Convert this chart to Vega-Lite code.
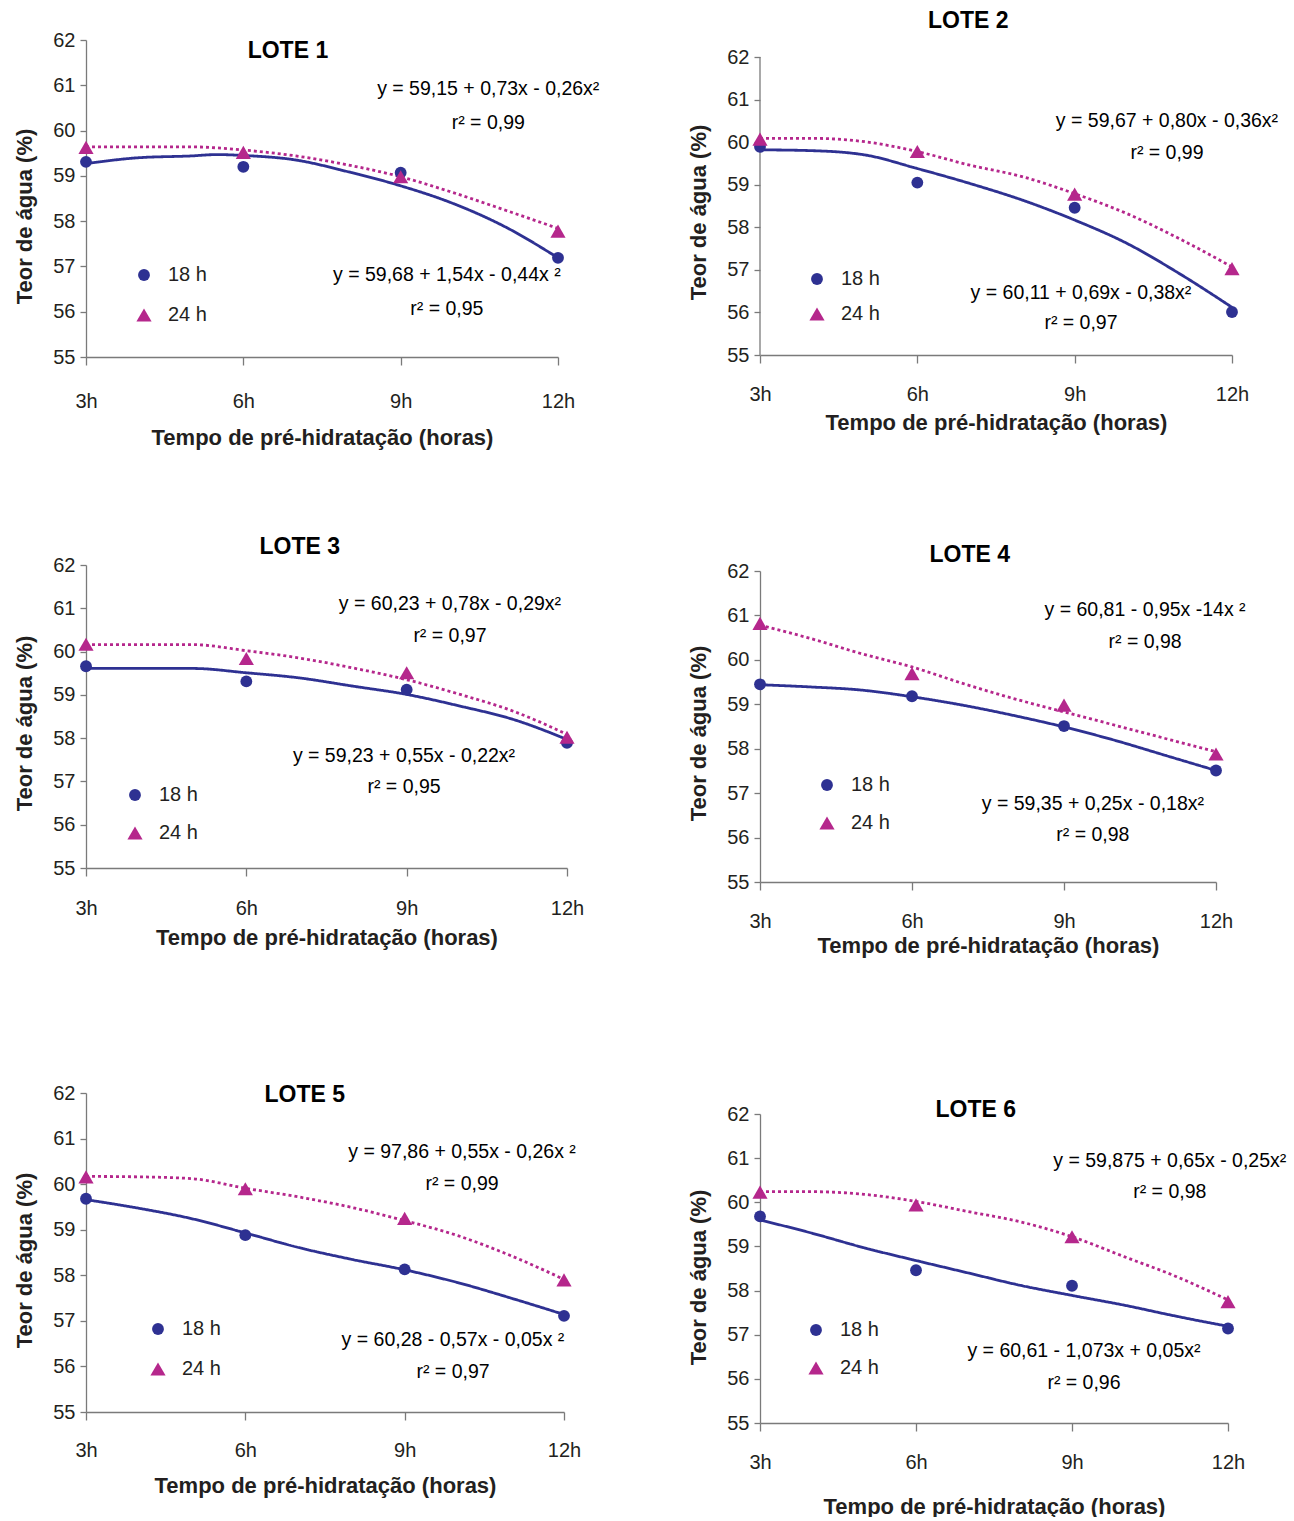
{
  "$schema": "https://vega.github.io/schema/vega-lite/v6.json",
  "padding": {"left": 13, "top": 10, "right": 0, "bottom": 0},
  "data": {"values": [
    {"lote":1,"serie":"18 h","tipo":"obs","hora":3,"teor":59.31},{"lote":1,"serie":"18 h","tipo":"obs","hora":6,"teor":59.20},{"lote":1,"serie":"18 h","tipo":"obs","hora":9,"teor":59.07},{"lote":1,"serie":"18 h","tipo":"obs","hora":12,"teor":57.19},
    {"lote":1,"serie":"24 h","tipo":"obs","hora":3,"teor":59.63},{"lote":1,"serie":"24 h","tipo":"obs","hora":6,"teor":59.52},{"lote":1,"serie":"24 h","tipo":"obs","hora":9,"teor":58.98},{"lote":1,"serie":"24 h","tipo":"obs","hora":12,"teor":57.78},
    {"lote":2,"serie":"18 h","tipo":"obs","hora":3,"teor":59.89},{"lote":2,"serie":"18 h","tipo":"obs","hora":6,"teor":59.05},{"lote":2,"serie":"18 h","tipo":"obs","hora":9,"teor":58.46},{"lote":2,"serie":"18 h","tipo":"obs","hora":12,"teor":56.01},
    {"lote":2,"serie":"24 h","tipo":"obs","hora":3,"teor":60.07},{"lote":2,"serie":"24 h","tipo":"obs","hora":6,"teor":59.78},{"lote":2,"serie":"24 h","tipo":"obs","hora":9,"teor":58.78},{"lote":2,"serie":"24 h","tipo":"obs","hora":12,"teor":57.03},
    {"lote":3,"serie":"18 h","tipo":"obs","hora":3,"teor":59.66},{"lote":3,"serie":"18 h","tipo":"obs","hora":6,"teor":59.31},{"lote":3,"serie":"18 h","tipo":"obs","hora":9,"teor":59.12},{"lote":3,"serie":"18 h","tipo":"obs","hora":12,"teor":57.89},
    {"lote":3,"serie":"24 h","tipo":"obs","hora":3,"teor":60.17},{"lote":3,"serie":"24 h","tipo":"obs","hora":6,"teor":59.84},{"lote":3,"serie":"24 h","tipo":"obs","hora":9,"teor":59.51},{"lote":3,"serie":"24 h","tipo":"obs","hora":12,"teor":58.02},
    {"lote":4,"serie":"18 h","tipo":"obs","hora":3,"teor":59.45},{"lote":4,"serie":"18 h","tipo":"obs","hora":6,"teor":59.18},{"lote":4,"serie":"18 h","tipo":"obs","hora":9,"teor":58.51},{"lote":4,"serie":"18 h","tipo":"obs","hora":12,"teor":57.51},
    {"lote":4,"serie":"24 h","tipo":"obs","hora":3,"teor":60.82},{"lote":4,"serie":"24 h","tipo":"obs","hora":6,"teor":59.69},{"lote":4,"serie":"24 h","tipo":"obs","hora":9,"teor":58.98},{"lote":4,"serie":"24 h","tipo":"obs","hora":12,"teor":57.88},
    {"lote":5,"serie":"18 h","tipo":"obs","hora":3,"teor":59.68},{"lote":5,"serie":"18 h","tipo":"obs","hora":6,"teor":58.88},{"lote":5,"serie":"18 h","tipo":"obs","hora":9,"teor":58.13},{"lote":5,"serie":"18 h","tipo":"obs","hora":12,"teor":57.11},
    {"lote":5,"serie":"24 h","tipo":"obs","hora":3,"teor":60.16},{"lote":5,"serie":"24 h","tipo":"obs","hora":6,"teor":59.90},{"lote":5,"serie":"24 h","tipo":"obs","hora":9,"teor":59.25},{"lote":5,"serie":"24 h","tipo":"obs","hora":12,"teor":57.90},
    {"lote":6,"serie":"18 h","tipo":"obs","hora":3,"teor":59.68},{"lote":6,"serie":"18 h","tipo":"obs","hora":6,"teor":58.46},{"lote":6,"serie":"18 h","tipo":"obs","hora":9,"teor":58.11},{"lote":6,"serie":"18 h","tipo":"obs","hora":12,"teor":57.14},
    {"lote":6,"serie":"24 h","tipo":"obs","hora":3,"teor":60.23},{"lote":6,"serie":"24 h","tipo":"obs","hora":6,"teor":59.94},{"lote":6,"serie":"24 h","tipo":"obs","hora":9,"teor":59.22},{"lote":6,"serie":"24 h","tipo":"obs","hora":12,"teor":57.75},

    {"lote":1,"serie":"18 h","tipo":"ajuste","hora":3,"teor":59.27},{"lote":1,"serie":"18 h","tipo":"ajuste","hora":4,"teor":59.40},{"lote":1,"serie":"18 h","tipo":"ajuste","hora":5,"teor":59.44},{"lote":1,"serie":"18 h","tipo":"ajuste","hora":5.5,"teor":59.47},{"lote":1,"serie":"18 h","tipo":"ajuste","hora":6,"teor":59.45},{"lote":1,"serie":"18 h","tipo":"ajuste","hora":7,"teor":59.35},{"lote":1,"serie":"18 h","tipo":"ajuste","hora":8,"teor":59.09},{"lote":1,"serie":"18 h","tipo":"ajuste","hora":9,"teor":58.78},{"lote":1,"serie":"18 h","tipo":"ajuste","hora":10,"teor":58.39},{"lote":1,"serie":"18 h","tipo":"ajuste","hora":11,"teor":57.87},{"lote":1,"serie":"18 h","tipo":"ajuste","hora":12,"teor":57.19},
    {"lote":1,"serie":"24 h","tipo":"ajuste","hora":3,"teor":59.64},{"lote":1,"serie":"24 h","tipo":"ajuste","hora":4,"teor":59.64},{"lote":1,"serie":"24 h","tipo":"ajuste","hora":5,"teor":59.64},{"lote":1,"serie":"24 h","tipo":"ajuste","hora":6,"teor":59.57},{"lote":1,"serie":"24 h","tipo":"ajuste","hora":7,"teor":59.44},{"lote":1,"serie":"24 h","tipo":"ajuste","hora":8,"teor":59.24},{"lote":1,"serie":"24 h","tipo":"ajuste","hora":9,"teor":58.98},{"lote":1,"serie":"24 h","tipo":"ajuste","hora":10,"teor":58.63},{"lote":1,"serie":"24 h","tipo":"ajuste","hora":11,"teor":58.24},{"lote":1,"serie":"24 h","tipo":"ajuste","hora":12,"teor":57.84},
    {"lote":2,"serie":"18 h","tipo":"ajuste","hora":3,"teor":59.82},{"lote":2,"serie":"18 h","tipo":"ajuste","hora":4,"teor":59.80},{"lote":2,"serie":"18 h","tipo":"ajuste","hora":5,"teor":59.70},{"lote":2,"serie":"18 h","tipo":"ajuste","hora":6,"teor":59.38},{"lote":2,"serie":"18 h","tipo":"ajuste","hora":7,"teor":59.03},{"lote":2,"serie":"18 h","tipo":"ajuste","hora":8,"teor":58.64},{"lote":2,"serie":"18 h","tipo":"ajuste","hora":9,"teor":58.17},{"lote":2,"serie":"18 h","tipo":"ajuste","hora":10,"teor":57.62},{"lote":2,"serie":"18 h","tipo":"ajuste","hora":11,"teor":56.91},{"lote":2,"serie":"18 h","tipo":"ajuste","hora":12,"teor":56.12},
    {"lote":2,"serie":"24 h","tipo":"ajuste","hora":3,"teor":60.09},{"lote":2,"serie":"24 h","tipo":"ajuste","hora":4,"teor":60.09},{"lote":2,"serie":"24 h","tipo":"ajuste","hora":5,"teor":60.01},{"lote":2,"serie":"24 h","tipo":"ajuste","hora":6,"teor":59.78},{"lote":2,"serie":"24 h","tipo":"ajuste","hora":7,"teor":59.46},{"lote":2,"serie":"24 h","tipo":"ajuste","hora":8,"teor":59.19},{"lote":2,"serie":"24 h","tipo":"ajuste","hora":9,"teor":58.79},{"lote":2,"serie":"24 h","tipo":"ajuste","hora":10,"teor":58.32},{"lote":2,"serie":"24 h","tipo":"ajuste","hora":11,"teor":57.73},{"lote":2,"serie":"24 h","tipo":"ajuste","hora":12,"teor":57.07},
    {"lote":3,"serie":"18 h","tipo":"ajuste","hora":3,"teor":59.61},{"lote":3,"serie":"18 h","tipo":"ajuste","hora":4,"teor":59.61},{"lote":3,"serie":"18 h","tipo":"ajuste","hora":5,"teor":59.61},{"lote":3,"serie":"18 h","tipo":"ajuste","hora":6,"teor":59.51},{"lote":3,"serie":"18 h","tipo":"ajuste","hora":7,"teor":59.39},{"lote":3,"serie":"18 h","tipo":"ajuste","hora":8,"teor":59.20},{"lote":3,"serie":"18 h","tipo":"ajuste","hora":9,"teor":59.01},{"lote":3,"serie":"18 h","tipo":"ajuste","hora":10,"teor":58.74},{"lote":3,"serie":"18 h","tipo":"ajuste","hora":11,"teor":58.43},{"lote":3,"serie":"18 h","tipo":"ajuste","hora":12,"teor":57.97},
    {"lote":3,"serie":"24 h","tipo":"ajuste","hora":3,"teor":60.16},{"lote":3,"serie":"24 h","tipo":"ajuste","hora":4,"teor":60.16},{"lote":3,"serie":"24 h","tipo":"ajuste","hora":5,"teor":60.16},{"lote":3,"serie":"24 h","tipo":"ajuste","hora":6,"teor":60.02},{"lote":3,"serie":"24 h","tipo":"ajuste","hora":7,"teor":59.85},{"lote":3,"serie":"24 h","tipo":"ajuste","hora":8,"teor":59.62},{"lote":3,"serie":"24 h","tipo":"ajuste","hora":9,"teor":59.35},{"lote":3,"serie":"24 h","tipo":"ajuste","hora":10,"teor":59.01},{"lote":3,"serie":"24 h","tipo":"ajuste","hora":11,"teor":58.62},{"lote":3,"serie":"24 h","tipo":"ajuste","hora":12,"teor":58.09},
    {"lote":4,"serie":"18 h","tipo":"ajuste","hora":3,"teor":59.44},{"lote":4,"serie":"18 h","tipo":"ajuste","hora":4,"teor":59.39},{"lote":4,"serie":"18 h","tipo":"ajuste","hora":5,"teor":59.32},{"lote":4,"serie":"18 h","tipo":"ajuste","hora":6,"teor":59.17},{"lote":4,"serie":"18 h","tipo":"ajuste","hora":7,"teor":58.98},{"lote":4,"serie":"18 h","tipo":"ajuste","hora":8,"teor":58.75},{"lote":4,"serie":"18 h","tipo":"ajuste","hora":9,"teor":58.49},{"lote":4,"serie":"18 h","tipo":"ajuste","hora":10,"teor":58.19},{"lote":4,"serie":"18 h","tipo":"ajuste","hora":11,"teor":57.85},{"lote":4,"serie":"18 h","tipo":"ajuste","hora":12,"teor":57.51},
    {"lote":4,"serie":"24 h","tipo":"ajuste","hora":3,"teor":60.78},{"lote":4,"serie":"24 h","tipo":"ajuste","hora":4,"teor":60.48},{"lote":4,"serie":"24 h","tipo":"ajuste","hora":5,"teor":60.14},{"lote":4,"serie":"24 h","tipo":"ajuste","hora":6,"teor":59.84},{"lote":4,"serie":"24 h","tipo":"ajuste","hora":7,"teor":59.47},{"lote":4,"serie":"24 h","tipo":"ajuste","hora":8,"teor":59.13},{"lote":4,"serie":"24 h","tipo":"ajuste","hora":9,"teor":58.83},{"lote":4,"serie":"24 h","tipo":"ajuste","hora":10,"teor":58.53},{"lote":4,"serie":"24 h","tipo":"ajuste","hora":11,"teor":58.23},{"lote":4,"serie":"24 h","tipo":"ajuste","hora":12,"teor":57.93},
    {"lote":5,"serie":"18 h","tipo":"ajuste","hora":3,"teor":59.66},{"lote":5,"serie":"18 h","tipo":"ajuste","hora":4,"teor":59.47},{"lote":5,"serie":"18 h","tipo":"ajuste","hora":5,"teor":59.24},{"lote":5,"serie":"18 h","tipo":"ajuste","hora":6,"teor":58.93},{"lote":5,"serie":"18 h","tipo":"ajuste","hora":7,"teor":58.61},{"lote":5,"serie":"18 h","tipo":"ajuste","hora":8,"teor":58.35},{"lote":5,"serie":"18 h","tipo":"ajuste","hora":9,"teor":58.12},{"lote":5,"serie":"18 h","tipo":"ajuste","hora":10,"teor":57.84},{"lote":5,"serie":"18 h","tipo":"ajuste","hora":11,"teor":57.50},{"lote":5,"serie":"18 h","tipo":"ajuste","hora":12,"teor":57.14},
    {"lote":5,"serie":"24 h","tipo":"ajuste","hora":3,"teor":60.17},{"lote":5,"serie":"24 h","tipo":"ajuste","hora":4,"teor":60.16},{"lote":5,"serie":"24 h","tipo":"ajuste","hora":5,"teor":60.12},{"lote":5,"serie":"24 h","tipo":"ajuste","hora":6,"teor":59.91},{"lote":5,"serie":"24 h","tipo":"ajuste","hora":7,"teor":59.72},{"lote":5,"serie":"24 h","tipo":"ajuste","hora":8,"teor":59.49},{"lote":5,"serie":"24 h","tipo":"ajuste","hora":9,"teor":59.20},{"lote":5,"serie":"24 h","tipo":"ajuste","hora":10,"teor":58.87},{"lote":5,"serie":"24 h","tipo":"ajuste","hora":11,"teor":58.43},{"lote":5,"serie":"24 h","tipo":"ajuste","hora":12,"teor":57.91},
    {"lote":6,"serie":"18 h","tipo":"ajuste","hora":3,"teor":59.60},{"lote":6,"serie":"18 h","tipo":"ajuste","hora":4,"teor":59.30},{"lote":6,"serie":"18 h","tipo":"ajuste","hora":5,"teor":58.97},{"lote":6,"serie":"18 h","tipo":"ajuste","hora":6,"teor":58.68},{"lote":6,"serie":"18 h","tipo":"ajuste","hora":7,"teor":58.40},{"lote":6,"serie":"18 h","tipo":"ajuste","hora":8,"teor":58.12},{"lote":6,"serie":"18 h","tipo":"ajuste","hora":9,"teor":57.89},{"lote":6,"serie":"18 h","tipo":"ajuste","hora":10,"teor":57.67},{"lote":6,"serie":"18 h","tipo":"ajuste","hora":11,"teor":57.42},{"lote":6,"serie":"18 h","tipo":"ajuste","hora":12,"teor":57.19},
    {"lote":6,"serie":"24 h","tipo":"ajuste","hora":3,"teor":60.24},{"lote":6,"serie":"24 h","tipo":"ajuste","hora":4,"teor":60.24},{"lote":6,"serie":"24 h","tipo":"ajuste","hora":5,"teor":60.18},{"lote":6,"serie":"24 h","tipo":"ajuste","hora":6,"teor":60.02},{"lote":6,"serie":"24 h","tipo":"ajuste","hora":7,"teor":59.79},{"lote":6,"serie":"24 h","tipo":"ajuste","hora":8,"teor":59.56},{"lote":6,"serie":"24 h","tipo":"ajuste","hora":9,"teor":59.22},{"lote":6,"serie":"24 h","tipo":"ajuste","hora":10,"teor":58.77},{"lote":6,"serie":"24 h","tipo":"ajuste","hora":11,"teor":58.32},{"lote":6,"serie":"24 h","tipo":"ajuste","hora":12,"teor":57.79}
  ]},
  "resolve": {"scale": {"color": "independent", "shape": "independent", "size": "independent"}, "legend": {"color": "independent", "shape": "independent", "size": "independent"}},
  "columns": 2,
  "spacing": 84,
  "concat": [
    {
      "resolve": {"scale": {"color": "independent", "shape": "independent", "size": "independent"}, "legend": {"color": "independent", "shape": "independent", "size": "independent"}},
      "spacing": 135,
      "vconcat": [
        {
          "resolve": {"scale": {"color": "independent", "shape": "independent", "size": "independent"}, "legend": {"color": "independent", "shape": "independent", "size": "independent"}},
          "spacing": 88,
          "vconcat": [
            {
              "width": 472, "height": 317,
              "layer": [
                {"transform": [{"filter": "datum.lote == 1 && datum.tipo == 'ajuste'"}], "mark": {"type": "line", "interpolate": "monotone", "strokeWidth": 2.8}, "encoding": {
                  "x": {"field": "hora", "type": "quantitative", "scale": {"domain": [3, 12], "nice": false, "zero": false}, "axis": {"values": [3, 6, 9, 12], "labelExpr": "datum.value + 'h'", "labelPadding": 26, "titlePadding": 16, "title": "Tempo de pré-hidratação (horas)"}},
                  "y": {"field": "teor", "type": "quantitative", "scale": {"domain": [55, 62], "nice": false, "zero": false}, "axis": {"values": [55, 56, 57, 58, 59, 60, 61, 62], "title": "Teor de água (%)", "titleY": 176}},
                  "stroke": {"field": "serie", "type": "nominal", "scale": {"domain": ["18 h", "24 h"], "range": ["#2E3192", "#B5278C"]}, "legend": null}, "strokeDash": {"field": "serie", "type": "nominal", "scale": {"domain": ["18 h", "24 h"], "range": [[1, 0], [3, 3]]}, "legend": null}}},
                {"transform": [{"filter": "datum.lote == 1 && datum.tipo == 'obs'"}], "mark": {"type": "point", "filled": true, "opacity": 1}, "encoding": {
                  "x": {"field": "hora", "type": "quantitative"}, "y": {"field": "teor", "type": "quantitative"},
                  "size": {"field": "serie", "type": "nominal", "scale": {"domain": ["18 h", "24 h"], "range": [140, 230]}, "legend": {"title": null, "orient": "none", "legendX": 48, "legendY": 225, "labelFontSize": 20, "labelColor": "#231f20", "labelOffset": 14, "rowPadding": 20, "symbolStrokeWidth": 0, "padding": 0}},
                  "color": {"field": "serie", "type": "nominal", "scale": {"domain": ["18 h", "24 h"], "range": ["#2E3192", "#B5278C"]}, "legend": {"title": null, "orient": "none", "legendX": 48, "legendY": 225, "labelFontSize": 20, "labelColor": "#231f20", "labelOffset": 14, "rowPadding": 20, "symbolStrokeWidth": 0, "padding": 0}},
                  "shape": {"field": "serie", "type": "nominal", "scale": {"domain": ["18 h", "24 h"], "range": ["circle", "triangle-up"]}, "legend": {"title": null, "orient": "none", "legendX": 48, "legendY": 225, "labelFontSize": 20, "labelColor": "#231f20", "labelOffset": 14, "rowPadding": 20, "symbolStrokeWidth": 0, "padding": 0}}}},
                {"data": {"values": [{"k": 1}]}, "mark": {"type": "text", "fontSize": 23, "fontWeight": "bold", "baseline": "middle", "align": "center"}, "encoding": {"x": {"datum": 6.85}, "y": {"datum": 61.75}, "text": {"value": "LOTE 1"}}},
                {"data": {"values": [{"k": 1}]}, "mark": {"type": "text", "fontSize": 19.5, "baseline": "top", "align": "center", "lineHeight": 34}, "encoding": {"x": {"datum": 10.67}, "y": {"datum": 61.11}, "text": {"value": ["y =  59,15 + 0,73x - 0,26x²", "r² = 0,99"]}}},
                {"data": {"values": [{"k": 1}]}, "mark": {"type": "text", "fontSize": 19.5, "baseline": "top", "align": "center", "lineHeight": 34}, "encoding": {"x": {"datum": 9.88}, "y": {"datum": 57.02}, "text": {"value": ["y =  59,68 + 1,54x - 0,44x ²", "r² = 0,95"]}}}
              ]
            },
            {
              "width": 481, "height": 303,
              "layer": [
                {"transform": [{"filter": "datum.lote == 3 && datum.tipo == 'ajuste'"}], "mark": {"type": "line", "interpolate": "monotone", "strokeWidth": 2.8}, "encoding": {
                  "x": {"field": "hora", "type": "quantitative", "scale": {"domain": [3, 12], "nice": false, "zero": false}, "axis": {"values": [3, 6, 9, 12], "labelExpr": "datum.value + 'h'", "labelPadding": 22, "titlePadding": 9, "title": "Tempo de pré-hidratação (horas)"}},
                  "y": {"field": "teor", "type": "quantitative", "scale": {"domain": [55, 62], "nice": false, "zero": false}, "axis": {"values": [55, 56, 57, 58, 59, 60, 61, 62], "title": "Teor de água (%)", "titleY": 158}},
                  "stroke": {"field": "serie", "type": "nominal", "scale": {"domain": ["18 h", "24 h"], "range": ["#2E3192", "#B5278C"]}, "legend": null}, "strokeDash": {"field": "serie", "type": "nominal", "scale": {"domain": ["18 h", "24 h"], "range": [[1, 0], [3, 3]]}, "legend": null}}},
                {"transform": [{"filter": "datum.lote == 3 && datum.tipo == 'obs'"}], "mark": {"type": "point", "filled": true, "opacity": 1}, "encoding": {
                  "x": {"field": "hora", "type": "quantitative"}, "y": {"field": "teor", "type": "quantitative"},
                  "size": {"field": "serie", "type": "nominal", "scale": {"domain": ["18 h", "24 h"], "range": [140, 230]}, "legend": {"title": null, "orient": "none", "legendX": 39, "legendY": 220, "labelFontSize": 20, "labelColor": "#231f20", "labelOffset": 14, "rowPadding": 18, "symbolStrokeWidth": 0, "padding": 0}},
                  "color": {"field": "serie", "type": "nominal", "scale": {"domain": ["18 h", "24 h"], "range": ["#2E3192", "#B5278C"]}, "legend": {"title": null, "orient": "none", "legendX": 39, "legendY": 220, "labelFontSize": 20, "labelColor": "#231f20", "labelOffset": 14, "rowPadding": 18, "symbolStrokeWidth": 0, "padding": 0}},
                  "shape": {"field": "serie", "type": "nominal", "scale": {"domain": ["18 h", "24 h"], "range": ["circle", "triangle-up"]}, "legend": {"title": null, "orient": "none", "legendX": 39, "legendY": 220, "labelFontSize": 20, "labelColor": "#231f20", "labelOffset": 14, "rowPadding": 18, "symbolStrokeWidth": 0, "padding": 0}}}},
                {"data": {"values": [{"k": 1}]}, "mark": {"type": "text", "fontSize": 23, "fontWeight": "bold", "baseline": "middle", "align": "center"}, "encoding": {"x": {"datum": 7.00}, "y": {"datum": 62.41}, "text": {"value": "LOTE 3"}}},
                {"data": {"values": [{"k": 1}]}, "mark": {"type": "text", "fontSize": 19.5, "baseline": "top", "align": "center", "lineHeight": 32}, "encoding": {"x": {"datum": 9.81}, "y": {"datum": 61.30}, "text": {"value": ["y = 60,23 + 0,78x - 0,29x²", "r² = 0,97"]}}},
                {"data": {"values": [{"k": 1}]}, "mark": {"type": "text", "fontSize": 19.5, "baseline": "top", "align": "center", "lineHeight": 31}, "encoding": {"x": {"datum": 8.95}, "y": {"datum": 57.79}, "text": {"value": ["y = 59,23 + 0,55x - 0,22x²", "r² = 0,95"]}}}
              ]
            }
          ]
        },
        {
          "width": 478, "height": 319,
          "layer": [
            {"transform": [{"filter": "datum.lote == 5 && datum.tipo == 'ajuste'"}], "mark": {"type": "line", "interpolate": "monotone", "strokeWidth": 2.8}, "encoding": {
              "x": {"field": "hora", "type": "quantitative", "scale": {"domain": [3, 12], "nice": false, "zero": false}, "axis": {"values": [3, 6, 9, 12], "labelExpr": "datum.value + 'h'", "labelPadding": 20, "titlePadding": 15, "title": "Tempo de pré-hidratação (horas)"}},
              "y": {"field": "teor", "type": "quantitative", "scale": {"domain": [55, 62], "nice": false, "zero": false}, "axis": {"values": [55, 56, 57, 58, 59, 60, 61, 62], "title": "Teor de água (%)", "titleY": 167}},
              "stroke": {"field": "serie", "type": "nominal", "scale": {"domain": ["18 h", "24 h"], "range": ["#2E3192", "#B5278C"]}, "legend": null}, "strokeDash": {"field": "serie", "type": "nominal", "scale": {"domain": ["18 h", "24 h"], "range": [[1, 0], [3, 3]]}, "legend": null}}},
            {"transform": [{"filter": "datum.lote == 5 && datum.tipo == 'obs'"}], "mark": {"type": "point", "filled": true, "opacity": 1}, "encoding": {
              "x": {"field": "hora", "type": "quantitative"}, "y": {"field": "teor", "type": "quantitative"},
              "size": {"field": "serie", "type": "nominal", "scale": {"domain": ["18 h", "24 h"], "range": [140, 230]}, "legend": {"title": null, "orient": "none", "legendX": 62, "legendY": 226, "labelFontSize": 20, "labelColor": "#231f20", "labelOffset": 14, "rowPadding": 20, "symbolStrokeWidth": 0, "padding": 0}},
              "color": {"field": "serie", "type": "nominal", "scale": {"domain": ["18 h", "24 h"], "range": ["#2E3192", "#B5278C"]}, "legend": {"title": null, "orient": "none", "legendX": 62, "legendY": 226, "labelFontSize": 20, "labelColor": "#231f20", "labelOffset": 14, "rowPadding": 20, "symbolStrokeWidth": 0, "padding": 0}},
              "shape": {"field": "serie", "type": "nominal", "scale": {"domain": ["18 h", "24 h"], "range": ["circle", "triangle-up"]}, "legend": {"title": null, "orient": "none", "legendX": 62, "legendY": 226, "labelFontSize": 20, "labelColor": "#231f20", "labelOffset": 14, "rowPadding": 20, "symbolStrokeWidth": 0, "padding": 0}}}},
            {"data": {"values": [{"k": 1}]}, "mark": {"type": "text", "fontSize": 23, "fontWeight": "bold", "baseline": "middle", "align": "center"}, "encoding": {"x": {"datum": 7.12}, "y": {"datum": 61.95}, "text": {"value": "LOTE 5"}}},
            {"data": {"values": [{"k": 1}]}, "mark": {"type": "text", "fontSize": 19.5, "baseline": "top", "align": "center", "lineHeight": 32}, "encoding": {"x": {"datum": 10.08}, "y": {"datum": 60.90}, "text": {"value": ["y = 97,86 + 0,55x - 0,26x ²", "r² = 0,99"]}}},
            {"data": {"values": [{"k": 1}]}, "mark": {"type": "text", "fontSize": 19.5, "baseline": "top", "align": "center", "lineHeight": 32}, "encoding": {"x": {"datum": 9.91}, "y": {"datum": 56.77}, "text": {"value": ["y = 60,28 - 0,57x - 0,05x ²", "r² = 0,97"]}}}
          ]
        }
      ]
    },
    {
      "resolve": {"scale": {"color": "independent", "shape": "independent", "size": "independent"}, "legend": {"color": "independent", "shape": "independent", "size": "independent"}},
      "spacing": 143,
      "vconcat": [
        {
          "resolve": {"scale": {"color": "independent", "shape": "independent", "size": "independent"}, "legend": {"color": "independent", "shape": "independent", "size": "independent"}},
          "spacing": 111,
          "vconcat": [
            {
              "width": 472, "height": 315,
              "layer": [
                {"data": {"values": [{"k": 1}]}, "mark": {"type": "rule", "color": "#7a7a7a", "strokeWidth": 1.3}, "encoding": {"x": {"datum": 3}, "y": {"datum": 55}, "y2": {"datum": 62}}},
                {"transform": [{"filter": "datum.lote == 2 && datum.tipo == 'ajuste'"}], "mark": {"type": "line", "interpolate": "monotone", "strokeWidth": 2.8}, "encoding": {
                  "x": {"field": "hora", "type": "quantitative", "scale": {"domain": [3, 12], "nice": false, "zero": false}, "axis": {"values": [3, 6, 9, 12], "labelExpr": "datum.value + 'h'", "labelPadding": 21, "titlePadding": 8, "title": "Tempo de pré-hidratação (horas)"}},
                  "y": {"field": "teor", "type": "quantitative", "scale": {"domain": [55, 62.4], "nice": false, "zero": false}, "axis": {"values": [55, 56, 57, 58, 59, 60, 61, 62], "domain": false, "title": "Teor de água (%)", "titleY": 172}},
                  "stroke": {"field": "serie", "type": "nominal", "scale": {"domain": ["18 h", "24 h"], "range": ["#2E3192", "#B5278C"]}, "legend": null}, "strokeDash": {"field": "serie", "type": "nominal", "scale": {"domain": ["18 h", "24 h"], "range": [[1, 0], [3, 3]]}, "legend": null}}},
                {"transform": [{"filter": "datum.lote == 2 && datum.tipo == 'obs'"}], "mark": {"type": "point", "filled": true, "opacity": 1}, "encoding": {
                  "x": {"field": "hora", "type": "quantitative"}, "y": {"field": "teor", "type": "quantitative"},
                  "size": {"field": "serie", "type": "nominal", "scale": {"domain": ["18 h", "24 h"], "range": [140, 230]}, "legend": {"title": null, "orient": "none", "legendX": 47, "legendY": 229, "labelFontSize": 20, "labelColor": "#231f20", "labelOffset": 14, "rowPadding": 15, "symbolStrokeWidth": 0, "padding": 0}},
                  "color": {"field": "serie", "type": "nominal", "scale": {"domain": ["18 h", "24 h"], "range": ["#2E3192", "#B5278C"]}, "legend": {"title": null, "orient": "none", "legendX": 47, "legendY": 229, "labelFontSize": 20, "labelColor": "#231f20", "labelOffset": 14, "rowPadding": 15, "symbolStrokeWidth": 0, "padding": 0}},
                  "shape": {"field": "serie", "type": "nominal", "scale": {"domain": ["18 h", "24 h"], "range": ["circle", "triangle-up"]}, "legend": {"title": null, "orient": "none", "legendX": 47, "legendY": 229, "labelFontSize": 20, "labelColor": "#231f20", "labelOffset": 14, "rowPadding": 15, "symbolStrokeWidth": 0, "padding": 0}}}},
                {"data": {"values": [{"k": 1}]}, "mark": {"type": "text", "fontSize": 23, "fontWeight": "bold", "baseline": "middle", "align": "center"}, "encoding": {"x": {"datum": 6.97}, "y": {"datum": 62.84}, "text": {"value": "LOTE 2"}}},
                {"data": {"values": [{"k": 1}]}, "mark": {"type": "text", "fontSize": 19.5, "baseline": "top", "align": "center", "lineHeight": 32}, "encoding": {"x": {"datum": 10.76}, "y": {"datum": 60.72}, "text": {"value": ["y =  59,67 + 0,80x - 0,36x²", "r² = 0,99"]}}},
                {"data": {"values": [{"k": 1}]}, "mark": {"type": "text", "fontSize": 19.5, "baseline": "top", "align": "center", "lineHeight": 30}, "encoding": {"x": {"datum": 9.12}, "y": {"datum": 56.66}, "text": {"value": ["y = 60,11 + 0,69x - 0,38x²", "r² = 0,97"]}}}
              ]
            },
            {
              "width": 456, "height": 311,
              "layer": [
                {"transform": [{"filter": "datum.lote == 4 && datum.tipo == 'ajuste'"}], "mark": {"type": "line", "interpolate": "monotone", "strokeWidth": 2.8}, "encoding": {
                  "x": {"field": "hora", "type": "quantitative", "scale": {"domain": [3, 12], "nice": false, "zero": false}, "axis": {"values": [3, 6, 9, 12], "labelExpr": "datum.value + 'h'", "labelPadding": 21, "titlePadding": 4, "title": "Tempo de pré-hidratação (horas)"}},
                  "y": {"field": "teor", "type": "quantitative", "scale": {"domain": [55, 62], "nice": false, "zero": false}, "axis": {"values": [55, 56, 57, 58, 59, 60, 61, 62], "title": "Teor de água (%)", "titleY": 162}},
                  "stroke": {"field": "serie", "type": "nominal", "scale": {"domain": ["18 h", "24 h"], "range": ["#2E3192", "#B5278C"]}, "legend": null}, "strokeDash": {"field": "serie", "type": "nominal", "scale": {"domain": ["18 h", "24 h"], "range": [[1, 0], [3, 3]]}, "legend": null}}},
                {"transform": [{"filter": "datum.lote == 4 && datum.tipo == 'obs'"}], "mark": {"type": "point", "filled": true, "opacity": 1}, "encoding": {
                  "x": {"field": "hora", "type": "quantitative"}, "y": {"field": "teor", "type": "quantitative"},
                  "size": {"field": "serie", "type": "nominal", "scale": {"domain": ["18 h", "24 h"], "range": [140, 230]}, "legend": {"title": null, "orient": "none", "legendX": 57, "legendY": 204, "labelFontSize": 20, "labelColor": "#231f20", "labelOffset": 14, "rowPadding": 18, "symbolStrokeWidth": 0, "padding": 0}},
                  "color": {"field": "serie", "type": "nominal", "scale": {"domain": ["18 h", "24 h"], "range": ["#2E3192", "#B5278C"]}, "legend": {"title": null, "orient": "none", "legendX": 57, "legendY": 204, "labelFontSize": 20, "labelColor": "#231f20", "labelOffset": 14, "rowPadding": 18, "symbolStrokeWidth": 0, "padding": 0}},
                  "shape": {"field": "serie", "type": "nominal", "scale": {"domain": ["18 h", "24 h"], "range": ["circle", "triangle-up"]}, "legend": {"title": null, "orient": "none", "legendX": 57, "legendY": 204, "labelFontSize": 20, "labelColor": "#231f20", "labelOffset": 14, "rowPadding": 18, "symbolStrokeWidth": 0, "padding": 0}}}},
                {"data": {"values": [{"k": 1}]}, "mark": {"type": "text", "fontSize": 23, "fontWeight": "bold", "baseline": "middle", "align": "center"}, "encoding": {"x": {"datum": 7.14}, "y": {"datum": 62.35}, "text": {"value": "LOTE 4"}}},
                {"data": {"values": [{"k": 1}]}, "mark": {"type": "text", "fontSize": 19.5, "baseline": "top", "align": "center", "lineHeight": 32}, "encoding": {"x": {"datum": 10.60}, "y": {"datum": 61.33}, "text": {"value": ["y = 60,81 - 0,95x -14x ²", "r² = 0,98"]}}},
                {"data": {"values": [{"k": 1}]}, "mark": {"type": "text", "fontSize": 19.5, "baseline": "top", "align": "center", "lineHeight": 31}, "encoding": {"x": {"datum": 9.57}, "y": {"datum": 56.95}, "text": {"value": ["y = 59,35 + 0,25x - 0,18x²", "r² = 0,98"]}}}
              ]
            }
          ]
        },
        {
          "width": 468, "height": 309,
          "layer": [
            {"transform": [{"filter": "datum.lote == 6 && datum.tipo == 'ajuste'"}], "mark": {"type": "line", "interpolate": "monotone", "strokeWidth": 2.8}, "encoding": {
              "x": {"field": "hora", "type": "quantitative", "scale": {"domain": [3, 12], "nice": false, "zero": false}, "axis": {"values": [3, 6, 9, 12], "labelExpr": "datum.value + 'h'", "labelPadding": 21, "titlePadding": 24, "title": "Tempo de pré-hidratação (horas)"}},
              "y": {"field": "teor", "type": "quantitative", "scale": {"domain": [55, 62], "nice": false, "zero": false}, "axis": {"values": [55, 56, 57, 58, 59, 60, 61, 62], "title": "Teor de água (%)", "titleY": 163}},
              "stroke": {"field": "serie", "type": "nominal", "scale": {"domain": ["18 h", "24 h"], "range": ["#2E3192", "#B5278C"]}, "legend": null}, "strokeDash": {"field": "serie", "type": "nominal", "scale": {"domain": ["18 h", "24 h"], "range": [[1, 0], [3, 3]]}, "legend": null}}},
            {"transform": [{"filter": "datum.lote == 6 && datum.tipo == 'obs'"}], "mark": {"type": "point", "filled": true, "opacity": 1}, "encoding": {
              "x": {"field": "hora", "type": "quantitative"}, "y": {"field": "teor", "type": "quantitative"},
              "size": {"field": "serie", "type": "nominal", "scale": {"domain": ["18 h", "24 h"], "range": [140, 230]}, "legend": {"title": null, "orient": "none", "legendX": 46, "legendY": 206, "labelFontSize": 20, "labelColor": "#231f20", "labelOffset": 14, "rowPadding": 18, "symbolStrokeWidth": 0, "padding": 0}},
              "color": {"field": "serie", "type": "nominal", "scale": {"domain": ["18 h", "24 h"], "range": ["#2E3192", "#B5278C"]}, "legend": {"title": null, "orient": "none", "legendX": 46, "legendY": 206, "labelFontSize": 20, "labelColor": "#231f20", "labelOffset": 14, "rowPadding": 18, "symbolStrokeWidth": 0, "padding": 0}},
              "shape": {"field": "serie", "type": "nominal", "scale": {"domain": ["18 h", "24 h"], "range": ["circle", "triangle-up"]}, "legend": {"title": null, "orient": "none", "legendX": 46, "legendY": 206, "labelFontSize": 20, "labelColor": "#231f20", "labelOffset": 14, "rowPadding": 18, "symbolStrokeWidth": 0, "padding": 0}}}},
            {"data": {"values": [{"k": 1}]}, "mark": {"type": "text", "fontSize": 23, "fontWeight": "bold", "baseline": "middle", "align": "center"}, "encoding": {"x": {"datum": 7.15}, "y": {"datum": 62.08}, "text": {"value": "LOTE 6"}}},
            {"data": {"values": [{"k": 1}]}, "mark": {"type": "text", "fontSize": 19.5, "baseline": "top", "align": "center", "lineHeight": 31}, "encoding": {"x": {"datum": 10.88}, "y": {"datum": 61.15}, "text": {"value": ["y = 59,875 + 0,65x - 0,25x²", "r² = 0,98"]}}},
            {"data": {"values": [{"k": 1}]}, "mark": {"type": "text", "fontSize": 19.5, "baseline": "top", "align": "center", "lineHeight": 32}, "encoding": {"x": {"datum": 9.23}, "y": {"datum": 56.84}, "text": {"value": ["y = 60,61 - 1,073x + 0,05x²", "r² = 0,96"]}}}
          ]
        }
      ]
    }
  ],
  "config": {
    "view": {"stroke": null},
    "axis": {"grid": false, "domainColor": "#7a7a7a", "tickColor": "#7a7a7a", "domainWidth": 1.3, "tickWidth": 1.3, "labelFontSize": 20, "labelColor": "#231f20", "titleFontSize": 22, "titleFontWeight": "bold", "titleColor": "#231f20"},
    "axisX": {"tickSize": 8, "labelFlush": false},
    "axisY": {"tickSize": 6, "labelPadding": 5, "titlePadding": 16}
  }
}
